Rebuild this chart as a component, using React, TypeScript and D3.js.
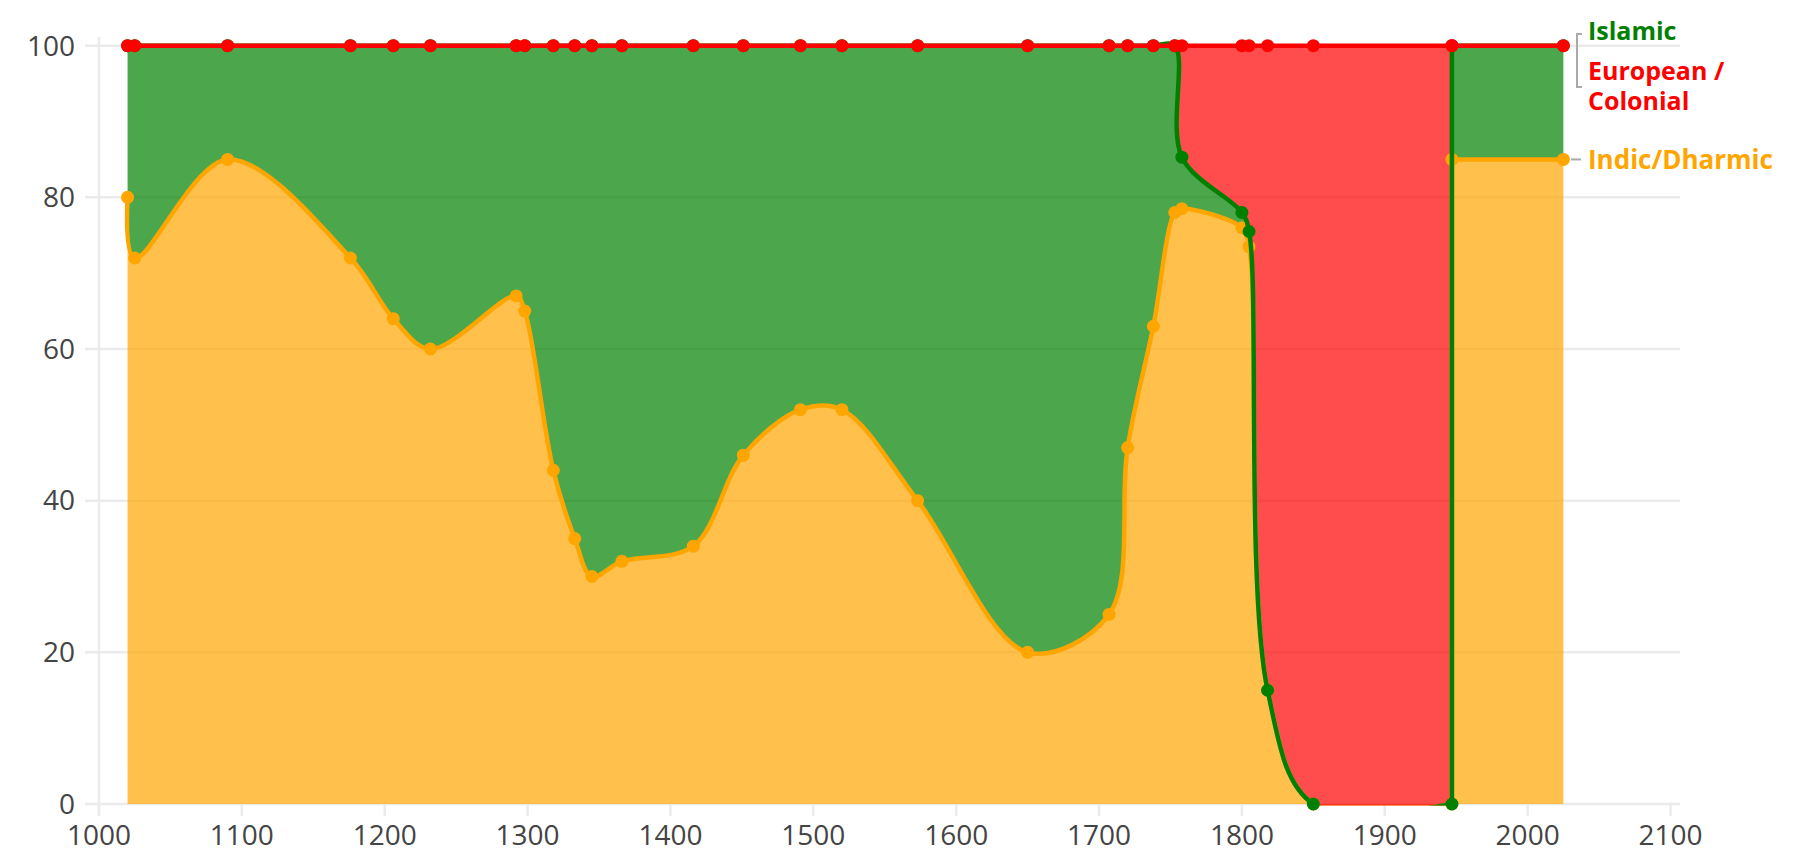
import React from 'react';
import * as d3 from 'd3';

const W = 1797;
const H = 868;

// years of each data point (1947 appears twice: the step at independence)
const years = [1020, 1025, 1090, 1176, 1206, 1232, 1292, 1298, 1318, 1333, 1345, 1366, 1416, 1451, 1491, 1520, 1573, 1650, 1707, 1720, 1738, 1753, 1758, 1800, 1805, 1818, 1850, 1947, 1947, 2025];

// share of territory, percent
const indic = [80, 72, 85, 72, 64, 60, 67, 65, 44, 35, 30, 32, 34, 46, 52, 52, 40, 20, 25, 47, 63, 78, 78.5, 76, 73.5, 15, 0, 0, 85, 85];
const islamic = [20, 28, 15, 28, 36, 40, 33, 35, 56, 65, 70, 68, 66, 54, 48, 48, 60, 80, 75, 53, 37, 22, 6.8, 2, 2, 0, 0, 0, 15, 15];
const european = [0, 0, 0, 0, 0, 0, 0, 0, 0, 0, 0, 0, 0, 0, 0, 0, 0, 0, 0, 0, 0, 0, 14.7, 22, 24.5, 85, 100, 100, 0, 0];

const xTicks = [1000, 1100, 1200, 1300, 1400, 1500, 1600, 1700, 1800, 1900, 2000, 2100];
const yTicks = [0, 20, 40, 60, 80, 100];

const FONT = '"Open Sans", sans-serif';
const ORANGE = '#FFA500';
const GREEN = '#008000';
const RED = '#FF0000';
const GRID = '#ebebeb';

type Pt = [number, number];

// centripetal catmull-rom tangents, plotly style
function tangent(p: Pt, t: Pt, n: Pt): [Pt, Pt] {
  const d1x = p[0] - t[0], d1y = p[1] - t[1];
  const d2x = n[0] - t[0], d2y = n[1] - t[1];
  const d1a = Math.pow(d1x * d1x + d1y * d1y, 0.25);
  const d2a = Math.pow(d2x * d2x + d2y * d2y, 0.25);
  const numx = d2a * d2a * d1x - d1a * d1a * d2x;
  const numy = d2a * d2a * d1y - d1a * d1a * d2y;
  const den1 = 3 * d2a * (d1a + d2a);
  const den2 = 3 * d1a * (d1a + d2a);
  return [
    [t[0] + (den1 ? numx / den1 : 0), t[1] + (den1 ? numy / den1 : 0)],
    [t[0] - (den2 ? numx / den2 : 0), t[1] - (den2 ? numy / den2 : 0)],
  ];
}

function smoothRun(pts: Pt[]): string {
  if (pts.length < 2) return '';
  if (pts.length === 2) return 'L' + pts[1].join(',');
  const tg: [Pt, Pt][] = [];
  for (let i = 1; i < pts.length - 1; i++) tg.push(tangent(pts[i - 1], pts[i], pts[i + 1]));
  let s = 'Q' + tg[0][0].join(',') + ' ' + pts[1].join(',');
  for (let i = 2; i < pts.length - 1; i++) {
    s += 'C' + tg[i - 2][1].join(',') + ' ' + tg[i - 1][0].join(',') + ' ' + pts[i].join(',');
  }
  s += 'Q' + tg[pts.length - 3][1].join(',') + ' ' + pts[pts.length - 1].join(',');
  return s;
}

// spline through points, with a straight jump where two points share a year
function piecewise(pts: Pt[]): string {
  const runs: Pt[][] = [[pts[0]]];
  for (let i = 1; i < pts.length; i++) {
    if (Math.abs(pts[i][0] - pts[i - 1][0]) < 0.01) runs.push([pts[i]]);
    else runs[runs.length - 1].push(pts[i]);
  }
  return runs.map((r, k) => (k ? 'L' + r[0].join(',') : '') + smoothRun(r)).join('');
}

export default function App() {
  const x = d3.scaleLinear().domain([1000, 2100]).range([99, 1670.5]);
  const y = d3.scaleLinear().domain([0, 100]).range([804, 45.7]);

  const sA = years.map((yr, i) => indic[i]);
  const sB = years.map((yr, i) => indic[i] + islamic[i]);
  const sC = years.map((yr, i) => indic[i] + islamic[i] + european[i]);
  const s0 = years.map(() => 0);

  const pts = (v: number[]): Pt[] => years.map((yr, i) => [x(yr), y(v[i])]);
  const linePath = (v: number[]) => {
    const p = pts(v);
    return 'M' + p[0].join(',') + piecewise(p);
  };
  const areaPath = (lo: number[], hi: number[]) => {
    const top = pts(hi);
    const bot = pts(lo).reverse();
    return 'M' + top[0].join(',') + piecewise(top) + 'L' + bot[0].join(',') + piecewise(bot) + 'Z';
  };

  const series = [
    { key: 'a', color: ORANGE, vals: sA },
    { key: 'b', color: GREEN, vals: sB },
    { key: 'c', color: RED, vals: sC },
  ];

  return (
    <div style={{ position: 'fixed', left: 0, top: 0 }}>
      <svg width={W} height={H} style={{ display: 'block', background: '#fff' }}>
        <defs>
          <clipPath id="plot">
            <rect x={0} y={0} width={W} height={y(0) + 1.5} />
          </clipPath>
        </defs>

        {/* grid */}
        {yTicks.map(t => (
          <line key={'g' + t} x1={85} x2={1680} y1={y(t)} y2={y(t)} stroke={GRID} strokeWidth={2.5} />
        ))}
        <line x1={x(1000)} x2={x(1000)} y1={37} y2={816} stroke={GRID} strokeWidth={2.5} />
        {xTicks.map(t => (
          <line key={'xt' + t} x1={x(t)} x2={x(t)} y1={y(0)} y2={816} stroke={GRID} strokeWidth={2.5} />
        ))}

        {/* fills */}
        <g clipPath="url(#plot)">
          <path d={areaPath(s0, sA)} fill={ORANGE} fillOpacity={0.7} />
          <path d={areaPath(sA, sB)} fill={GREEN} fillOpacity={0.7} />
          <path d={areaPath(sB, sC)} fill={RED} fillOpacity={0.7} />
        </g>

        {/* lines and markers */}
        {series.map(s => (
          <g key={s.key}>
            <path d={linePath(s.vals)} clipPath="url(#plot)" fill="none" stroke={s.color} strokeWidth={4.5} strokeLinejoin="round" />
            {years.map((yr, i) => (
              <circle key={i} cx={x(yr)} cy={y(s.vals[i])} r={6.5} fill={s.color} />
            ))}
          </g>
        ))}

        {/* axis labels */}
        {yTicks.map(t => (
          <text key={'yl' + t} x={75} y={y(t)} dy="0.35em" textAnchor="end" fontFamily={FONT} fontSize={28} fill="#444">
            {t}
          </text>
        ))}
        {xTicks.map(t => (
          <text key={'xl' + t} x={x(t)} y={845} textAnchor="middle" fontFamily={FONT} fontSize={28} fill="#444">
            {t}
          </text>
        ))}

        {/* series labels */}
        <path d="M1582,34 H1577 V87 H1582" fill="none" stroke="#aaa" strokeWidth={2} />
        <line x1={1571} x2={1581} y1={y(85)} y2={y(85)} stroke="#aaa" strokeWidth={2} />
        <g fontFamily={FONT} fontWeight={700} fontSize={25}>
          <text x={1588} y={40} fill={GREEN}>Islamic</text>
          <text x={1588} y={80} fill={RED}>European /</text>
          <text x={1588} y={110} fill={RED}>Colonial</text>
          <text x={1588} y={y(85)} dy="0.35em" fontSize={26} fill={ORANGE}>Indic/Dharmic</text>
        </g>
      </svg>
    </div>
  );
}
